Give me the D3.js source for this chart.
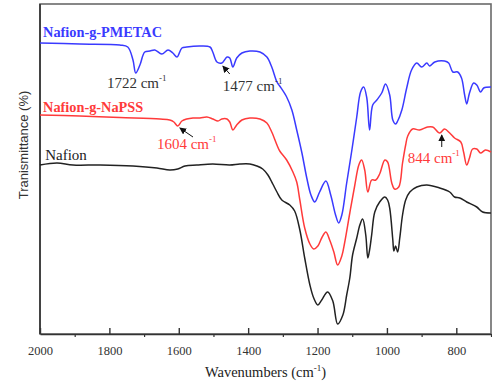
<!DOCTYPE html>
<html>
<head>
<meta charset="utf-8">
<script src="https://cdn.jsdelivr.net/npm/d3@7"></script>
<style>
  html, body { margin: 0; padding: 0; background: #fff; }
  svg { display: block; }
</style>
</head>
<body>
<div id="chart"></div>
<script>
// ---- Data (wavenumber cm-1, transmittance in arbitrary units) ----
const pmetacWave = [2000,1885,1770,1747,1732,1724,1712,1698,1683,1669,1649,1631,1617,1605,1591,1577,1539,1510,1502,1490,1476,1461,1453,1444,1433,1418,1395,1366,1346,1332,1317,1309,1289,1274,1260,1245,1231,1219,1208,1194,1176,1162,1148,1139,1130,1116,1101,1087,1076,1067,1058,1050,1041,1029,1015,1004,992,983,975,969,957,943,929,914,900,885,877,862,834,822,810,796,785,776,770,762,750,741,730,721,700];
const pmetacT    = [291,290,289,287,274,261,269,282,283,284,280,284,281,277,286,287,288,287,282,272,271,277,276,267,276,281,283,282,277,267,252,248,237,224,204,181,156,139,132,142,153,139,119,111,119,151,184,217,242,247,236,204,229,234,241,250,239,214,210,213,224,246,264,271,267,271,268,272,273,271,262,262,256,239,230,241,251,249,242,246,247];

const napssWave = [2000,1885,1770,1654,1626,1614,1603,1591,1577,1559,1539,1519,1502,1487,1476,1461,1453,1444,1433,1418,1395,1366,1346,1332,1317,1309,1289,1271,1260,1251,1237,1222,1211,1199,1188,1176,1165,1153,1142,1130,1122,1107,1093,1081,1073,1064,1055,1044,1032,1021,1006,998,986,978,966,955,946,940,926,906,883,868,848,834,819,805,787,779,770,762,753,741,730,716,700];
const napssT    = [219,218,216.5,215,214,212,208,213,215,216,216,217,215,213,215,215,212,204,209,214,216,215,211,202,189,183,174,162,152,134,106,90,85,88,96,102,94,82,69,78,91,121,148,169,174,164,142,154,154,160,174,172,151,145,147,171,189,198,205,204,207,207,201,205,201,196,192,182,169,176,185,185,181,184,182];

const nafionWave = [2000,1951,1905,1827,1732,1663,1626,1603,1582,1548,1502,1453,1424,1395,1375,1358,1343,1329,1317,1303,1280,1266,1251,1237,1222,1211,1199,1188,1171,1156,1142,1127,1116,1107,1099,1087,1078,1070,1061,1055,1050,1044,1035,1021,1006,998,992,983,980,975,969,963,955,946,934,914,885,848,819,805,790,770,741,724,700];
const nafionT    = [169,171,169,169,168,166,164,165,168,169,170,169,170,170,168,165,159,150,142,134,129,123,104,76,49,36,29,34,42,33,10,19,39,56,79,96,109,115,99,76,84,99,122,132,137,134,126,94,83,88,82,96,119,134,142,147,149,146,142,137,136,132,127,122,121];

const seriesNames  = ["Nafion-g-PMETAC", "Nafion-g-NaPSS", "Nafion"];
const seriesColors = ["#3a3aff", "#ff3a3a", "#222222"];

const xTickValues = [2000, 1800, 1600, 1400, 1200, 1000, 800];
const xMinorTicks = [1900, 1700, 1500, 1300, 1100, 900, 700];

// annotations: peak labels (text anchor position in data units) and arrows
const peakLabels = [
  {num: "1722", w: 1807, t: 246, color: "#333"},
  {num: "1477", w: 1473, t: 243, color: "#333"},
  {num: "1604", w: 1663, t: 185, color: "#ff3a3a"},
  {num: "844",  w: 940,  t: 171, color: "#ff3a3a"}
];
const arrows = [
  {w1: 1453, t1: 260, w2: 1473, t2: 268},
  {w1: 1559, t1: 197, w2: 1597, t2: 206},
  {w1: 842,  t1: 187, w2: 842,  t2: 199}
];
const nameLabels = [
  {w: 1991, t: 297, bold: true},
  {w: 1991, t: 222, bold: true},
  {w: 1985, t: 174, bold: false}
];

// ---- Layout ----
const W = 492, H = 385;
const mLeft = 40, mRight = 491, mTop = 4, mBottom = 334;

const svg = d3.select("#chart").append("svg")
  .attr("width", W).attr("height", H);

const x = d3.scaleLinear().domain([2000, 700]).range([mLeft, mRight]);
const y = d3.scaleLinear().domain([0, 330]).range([mBottom, mTop]);

// frame
svg.append("rect")
  .attr("x", mLeft).attr("y", mTop)
  .attr("width", mRight - mLeft).attr("height", mBottom - mTop)
  .attr("fill", "none").attr("stroke", "#6a6a6a").attr("stroke-width", 1.6);

// left axis line (darker)
svg.append("line").attr("x1", mLeft).attr("x2", mLeft).attr("y1", mTop).attr("y2", mBottom)
  .attr("stroke", "#333").attr("stroke-width", 1.6);

// bottom axis
const xAxis = d3.axisBottom(x).tickValues(xTickValues).tickSizeInner(-6).tickSizeOuter(0)
  .tickPadding(12).tickFormat(d3.format("d"));
const gx = svg.append("g").attr("transform", `translate(0,${mBottom})`).call(xAxis);
gx.select(".domain").attr("stroke", "#333").attr("stroke-width", 1.6);
gx.selectAll(".tick line").attr("stroke", "#333").attr("stroke-width", 1.4);
gx.selectAll(".tick text")
  .attr("font-family", "'Liberation Serif', 'Times New Roman', serif")
  .attr("font-size", 12.5).attr("fill", "#333");

const xAxisMinor = d3.axisBottom(x).tickValues(xMinorTicks).tickSize(3).tickFormat("");
const gxm = svg.append("g").attr("transform", `translate(0,${mBottom})`).call(xAxisMinor);
gxm.select(".domain").remove();
gxm.selectAll(".tick line").attr("stroke", "#333").attr("stroke-width", 1.2);

// x label
const xl = svg.append("text")
  .attr("x", (mLeft + mRight) / 2).attr("y", 377)
  .attr("text-anchor", "middle")
  .attr("font-family", "'Liberation Serif', 'Times New Roman', serif")
  .attr("font-size", 14.5).attr("fill", "#222");
xl.append("tspan").text("Wavenumbers (cm");
xl.append("tspan").attr("font-size", 9).attr("dy", -6).text("-1");
xl.append("tspan").attr("dy", 6).text(")");

// y label
svg.append("text")
  .attr("transform", `translate(28,${145}) rotate(-90)`)
  .attr("text-anchor", "middle")
  .attr("font-family", "'Liberation Sans', Arial, sans-serif")
  .attr("font-size", 13).attr("fill", "#333")
  .text("Tranismittance (%)");

// ---- lines ----
const line = d3.line()
  .x(d => x(d[0])).y(d => y(d[1]))
  .curve(d3.curveCatmullRom.alpha(0.5));

const seriesData = [
  d3.zip(pmetacWave, pmetacT),
  d3.zip(napssWave, napssT),
  d3.zip(nafionWave, nafionT)
];

seriesData.forEach((data, i) => {
  svg.append("path")
    .datum(data)
    .attr("d", line)
    .attr("fill", "none")
    .attr("stroke", seriesColors[i])
    .attr("stroke-width", 1.5)
    .attr("stroke-linejoin", "round");
});

// ---- series name labels ----
nameLabels.forEach((lab, i) => {
  svg.append("text")
    .attr("x", x(lab.w)).attr("y", y(lab.t))
    .attr("font-family", "'Liberation Serif', 'Times New Roman', serif")
    .attr("font-size", lab.bold ? 14.3 : 15)
    .attr("font-weight", lab.bold ? "bold" : "normal")
    .attr("fill", seriesColors[i])
    .text(seriesNames[i]);
});

// ---- peak labels ----
peakLabels.forEach(p => {
  const t = svg.append("text")
    .attr("x", x(p.w)).attr("y", y(p.t))
    .attr("font-family", "'Liberation Serif', 'Times New Roman', serif")
    .attr("font-size", 15).attr("fill", p.color);
  t.append("tspan").text(p.num + " cm");
  t.append("tspan").attr("font-size", 9).attr("dy", -7).text("-1");
});

// ---- arrows ----
const defs = svg.append("defs");
defs.append("marker")
  .attr("id", "ah").attr("viewBox", "0 0 10 10")
  .attr("refX", 9).attr("refY", 5)
  .attr("markerWidth", 7).attr("markerHeight", 7)
  .attr("markerUnits", "userSpaceOnUse")
  .attr("orient", "auto")
  .append("path").attr("d", "M0,0 L10,5 L0,10 Z").attr("fill", "#111");

arrows.forEach(a => {
  svg.append("line")
    .attr("x1", x(a.w1)).attr("y1", y(a.t1))
    .attr("x2", x(a.w2)).attr("y2", y(a.t2))
    .attr("stroke", "#111").attr("stroke-width", 1)
    .attr("marker-end", "url(#ah)");
});
</script>
</body>
</html>
